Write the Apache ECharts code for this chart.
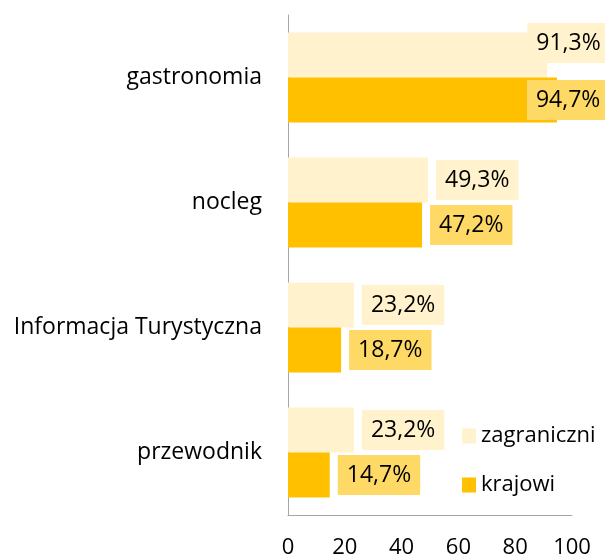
<!DOCTYPE html>
<html>
<head>
	<meta charset="utf-8" />
	<title>zagraniczni / krajowi</title>
	<script src="https://cdn.jsdelivr.net/npm/echarts@6/dist/echarts.min.js"></script>
	<style>
		body { margin: 0; background: #fff; }
		#chart { width: 605px; height: 559px; }
	</style>
</head>
<body>
<div id="chart"></div>
<script type="text/javascript">
	// dane
	var categories = ['gastronomia', 'nocleg', 'Informacja Turystyczna', 'przewodnik'];
	var zagraniczni = [91.3, 49.3, 23.2, 23.2];
	var krajowi = [94.7, 47.2, 18.7, 14.7];
	var xTicks = [0, 20, 40, 60, 80, 100];

	var font = '"Open Sans", "Noto Sans", sans-serif';

	function fmt(p) {
		return String(p.value).replace('.', ',') + '%';
	}

	function labelBase(bg) {
		return {
			show: true,
			position: 'right',
			distance: 8,
			formatter: fmt,
			fontFamily: font,
			fontSize: 23,
			lineHeight: 24,
			color: '#000',
			backgroundColor: bg,
			padding: [8, 9, 8, 9]
		};
	}

	// pierwszy wiersz ma etykiety przesunięte na słupek (jak w oryginale)
	var zagData = zagraniczni.map(function (v, i) {
		if (i === 0) return { value: v, label: { offset: [-28, -12] } };
		return v;
	});
	var krajData = krajowi.map(function (v, i) {
		if (i === 0) return { value: v, label: { offset: [-38, 0] } };
		return v;
	});

	var myChart = echarts.init(document.getElementById('chart'));
	var option = {
		animation: false,
		grid: { left: 288, right: 33, top: 15, bottom: 44, containLabel: false },
		legend: {
			orient: 'vertical',
			left: 462,
			top: 425,
			padding: 0,
			itemWidth: 14,
			itemHeight: 15,
			itemGap: 27,
			icon: 'rect',
			textStyle: { fontFamily: font, fontSize: 22, lineHeight: 20, color: '#000' },
			data: ['zagraniczni', 'krajowi']
		},
		xAxis: {
			type: 'value',
			min: xTicks[0],
			max: xTicks[xTicks.length - 1],
			interval: 20,
			axisLine: { show: true, lineStyle: { color: '#A6A6A6', width: 1 } },
			axisTick: { show: false },
			splitLine: { show: false },
			axisLabel: { fontFamily: font, fontSize: 22, color: '#000', margin: 22 }
		},
		yAxis: {
			type: 'category',
			inverse: true,
			data: categories,
			axisLine: { show: true, lineStyle: { color: '#A6A6A6', width: 1 } },
			axisTick: { show: false },
			axisLabel: { fontFamily: font, fontSize: 23, color: '#000', margin: 26 }
		},
		series: [
			{
				name: 'zagraniczni',
				type: 'bar',
				barWidth: 45,
				barGap: '0%',
				itemStyle: { color: '#FFF2CC' },
				label: labelBase('#FFF2CC'),
				data: zagData
			},
			{
				name: 'krajowi',
				type: 'bar',
				barWidth: 45,
				barGap: '0%',
				itemStyle: { color: '#FFC000' },
				label: labelBase('#FFD966'),
				data: krajData
			}
		]
	};
	myChart.setOption(option);
</script>
</body>
</html>
